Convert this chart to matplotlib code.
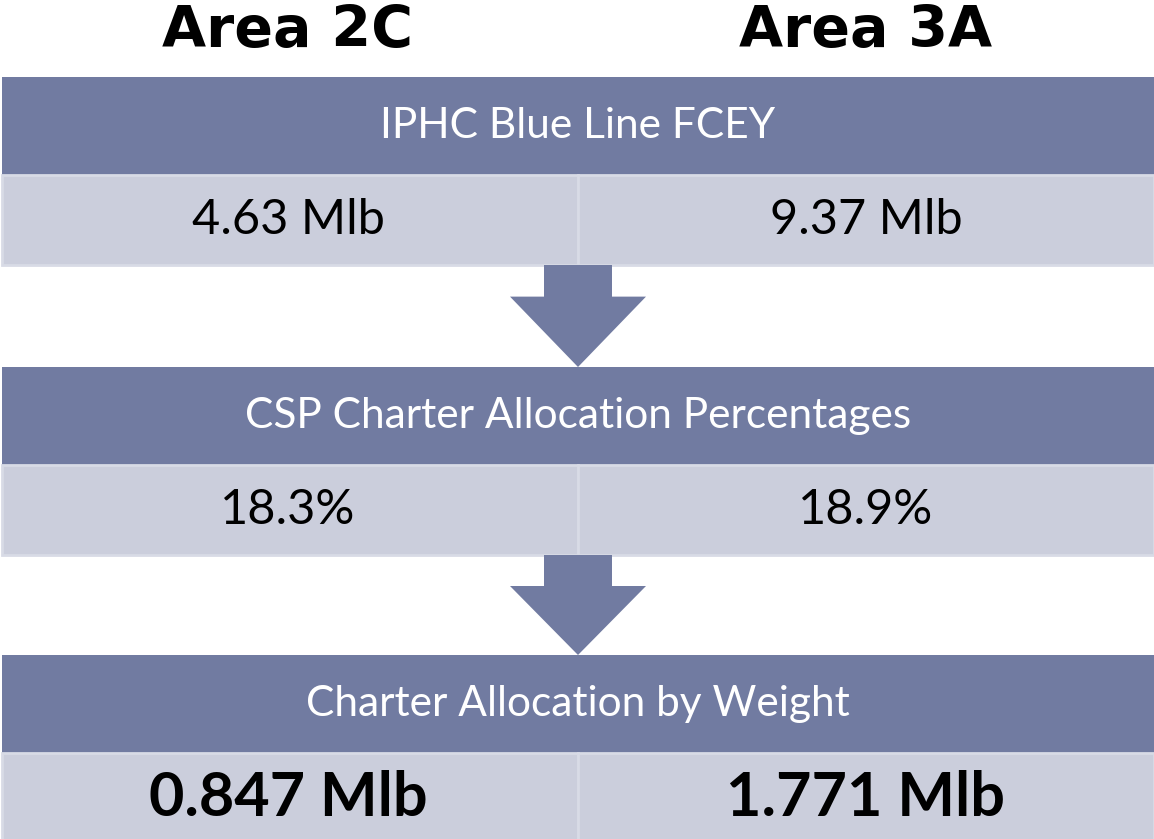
"""
Charter allocation flow diagram - Area 2C / Area 3A
"""
import matplotlib
matplotlib.use('Agg')
import matplotlib.pyplot as plt
from matplotlib.patches import Rectangle, Polygon

# data
areas = ['Area 2C', 'Area 3A']
steps = ['IPHC Blue Line FCEY', 'CSP Charter Allocation Percentages',
         'Charter Allocation by Weight']
values = [
    ['4.63 Mlb', '9.37 Mlb'],
    ['18.3%', '18.9%'],
    ['0.847 Mlb', '1.771 Mlb'],
]
bold_rows = [False, False, True]

# colours
DARK = '#717ba1'
LIGHT = '#cbcedc'
EDGE = '#d8dbe6'

W, H = 1154, 839
fig = plt.figure(figsize=(W / 100, H / 100), dpi=100)
ax = fig.add_axes([0, 0, 1, 1])
ax.set_xlim(0, W)
ax.set_ylim(H, 0)
ax.axis('off')

# layout (pixels)
left, right = 2, 1154
mid = 578
col_x = [288, 866]
band_top = [77, 367, 655]
dark_h = 98
light_h = 90

for i, a in enumerate(areas):
    ax.text(col_x[i], 31, a, ha='center', va='center', fontsize=41,
            fontweight='bold', family='DejaVu Sans', color='black')

for r, step in enumerate(steps):
    top = band_top[r]
    ax.add_patch(Rectangle((left, top), right - left, dark_h,
                           facecolor=DARK, edgecolor='none'))
    ax.text((left + right) / 2, top + dark_h / 2, step, ha='center',
            va='center', fontsize=30.5, color='white', family='Lato')
    ltop = top + dark_h
    for c in range(2):
        x0 = left if c == 0 else mid
        x1 = mid if c == 0 else right
        ax.add_patch(Rectangle((x0, ltop), x1 - x0, light_h,
                               facecolor=LIGHT, edgecolor=EDGE, linewidth=2))
        ax.text(col_x[c], ltop + light_h / 2, values[r][c],
                ha='center', va='center',
                fontsize=35 if not bold_rows[r] else 44,
                fontweight='bold' if bold_rows[r] else 'normal',
                color='black', family='Lato')

    # arrow down to the next step
    if r < len(steps) - 1:
        y0 = ltop + light_h
        y1 = band_top[r + 1]
        head = y0 + (y1 - y0) * 0.31
        cx = mid
        arrow = Polygon([(cx - 34, y0), (cx + 34, y0), (cx + 34, head),
                         (cx + 68, head), (cx, y1), (cx - 68, head),
                         (cx - 34, head)], closed=True,
                        facecolor=DARK, edgecolor='none')
        ax.add_patch(arrow)

plt.savefig('out.png', dpi=100, format='png')
plt.close()
